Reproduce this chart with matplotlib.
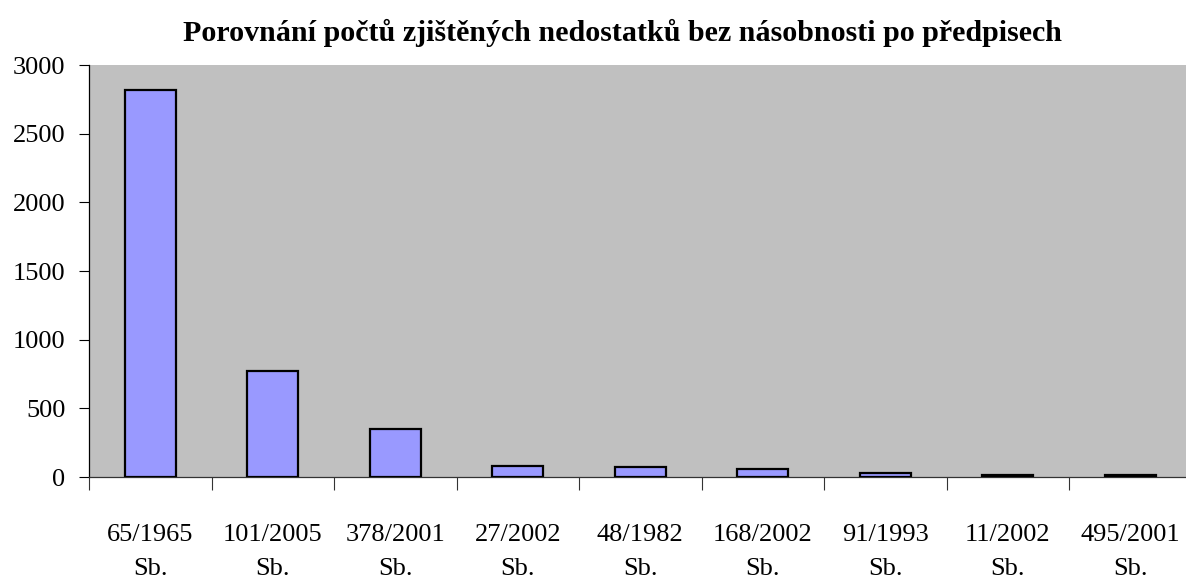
import numpy as np
import matplotlib
matplotlib.use("Agg")
import matplotlib.pyplot as plt

# Data
predpisy = ["65/1965\nSb.", "101/2005\nSb.", "378/2001\nSb.", "27/2002\nSb.",
            "48/1982\nSb.", "168/2002\nSb.", "91/1993\nSb.", "11/2002\nSb.",
            "495/2001\nSb."]
pocty = [2820, 770, 350, 78, 76, 60, 32, 14, 14]
y_ticks = [0, 500, 1000, 1500, 2000, 2500, 3000]

plt.rcParams["font.family"] = ["Liberation Serif", "DejaVu Serif"]

fig = plt.figure(figsize=(11.86, 5.84), dpi=100)
ax = fig.add_axes([89 / 1186, 1 - 477 / 584, (1191.5 - 89) / 1186, (477 - 65) / 584])
ax.set_facecolor("#c0c0c0")

x = np.arange(len(predpisy))
ax.bar(x, pocty, width=0.42, color="#9999ff", edgecolor="black", linewidth=1.6, zorder=3)

ax.set_xlim(-0.5, len(predpisy) - 0.5)
ax.set_ylim(0, 3000)
ax.set_yticks(y_ticks)
ax.set_yticklabels([str(v) for v in y_ticks], fontsize=19)

# labels at category centres, tick marks at category borders
ax.set_xticks(x)
ax.set_xticklabels(predpisy, fontsize=19, linespacing=1.7)
ax.set_xticks(np.arange(len(predpisy) + 1) - 0.5, minor=True)
ax.tick_params(axis="x", which="major", length=0, pad=34)
ax.tick_params(axis="x", which="minor", length=9, width=0.8, color="#333333", direction="out")
ax.tick_params(axis="y", length=7, width=0.8, pad=10, direction="out")

for s in ["top", "right"]:
    ax.spines[s].set_visible(False)
ax.spines["left"].set_linewidth(0.9)
ax.spines["bottom"].set_color("#333333")
ax.spines["bottom"].set_linewidth(0.9)

fig.text(0.5245, 0.943, "Porovnání počtů zjištěných nedostatků bez násobnosti po předpisech",
         ha="center", va="center", fontsize=21.6, fontweight="bold")

fig.savefig("out.png", dpi=100)
